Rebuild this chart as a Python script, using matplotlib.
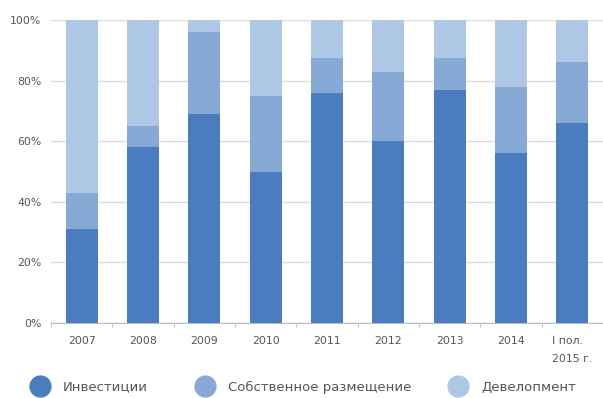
import numpy as np
import matplotlib
matplotlib.use('Agg')
import matplotlib.pyplot as plt
from matplotlib.lines import Line2D

years = ['2007', '2008', '2009', '2010', '2011', '2012', '2013', '2014', 'I пол.\n2015 г.']
investments = [31, 58, 69, 50, 76, 60, 77, 56, 66]
own_use = [12, 7, 27, 25, 11.5, 23, 10.5, 22, 20]
development = [57, 35, 4, 25, 12.5, 17, 12.5, 22, 14]
series_names = ['Инвестиции', 'Собственное размещение', 'Девелопмент']
colors = ['#4a7cc0', '#87a9d5', '#aec7e5']

fig = plt.figure(figsize=(6.03, 3.98), dpi=100)
ax = fig.add_axes([51/603, 1 - 323/398, 552/603, 303/398])

x = np.arange(len(years))
bottom = np.zeros(len(years))
for vals, c in zip([investments, own_use, development], colors):
    ax.bar(x, vals, width=0.52, bottom=bottom, color=c, zorder=3)
    bottom += np.array(vals)

ax.set_ylim(0, 100)
ax.set_xlim(-0.5, 8.47)
ax.set_yticks(np.arange(0, 101, 20))
ax.set_yticklabels([f'{v}%' for v in range(0, 101, 20)])
ax.yaxis.grid(True, color='#dcdcdc', linewidth=1, zorder=0)
ax.set_axisbelow(True)

ax.set_xticks(x)
ax.set_xticklabels(years, multialignment='left', linespacing=2.0)
ax.set_xticks(np.arange(-0.5, 8.6, 1), minor=True)
ax.tick_params(axis='x', which='major', length=0, pad=9, labelsize=7.8, labelcolor='#555555')
ax.tick_params(axis='x', which='minor', length=3, color='#bbbbbb')
ax.tick_params(axis='y', length=0, labelsize=7.8, labelcolor='#555555', pad=7)

for s in ['top', 'right', 'left']:
    ax.spines[s].set_visible(False)
ax.spines['bottom'].set_color('#bbbbbb')

# legend along the bottom
legend_x = [40, 205, 458]
for name, c, lx in zip(series_names, colors, legend_x):
    fig.add_artist(Line2D([lx / 603], [1 - 386 / 398], marker='o', markersize=15,
                          color=c, linestyle='none', transform=fig.transFigure))
    fig.text((lx + 23) / 603, 1 - 387 / 398, name, fontsize=9.5, color='#555555',
             va='center', ha='left')

fig.savefig('out.png', dpi=100)
